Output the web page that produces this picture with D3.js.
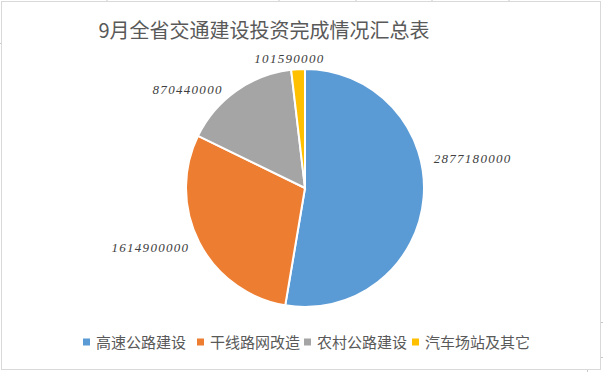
<!DOCTYPE html>
<html>
<head>
<meta charset="utf-8">
<script src="https://cdn.jsdelivr.net/npm/d3@7"></script>
<style>
	html, body { margin: 0; padding: 0; background: #fff; }
	.num { font-family: 'Liberation Serif', 'DejaVu Serif', serif; font-style: italic; font-size: 13px; fill: #404040; letter-spacing: 1.3px; }
	.cjk { font-family: 'Noto Sans CJK SC', sans-serif; fill: #595959; }
</style>
</head>
<body>
<div id="chart"></div>
<script>
const title = '9月全省交通建设投资完成情况汇总表'
const categories = ['高速公路建设', '干线路网改造', '农村公路建设', '汽车场站及其它']
const values = [2877180000, 1614900000, 870440000, 101590000]
const colors = ['#5b9bd5', '#ed7d31', '#a5a5a5', '#ffc000']

const W = 603
const H = 372
const cx = 305
const cy = 188
const radius = 119

const svg = d3.select('#chart')
	.append('svg')
	.attr('width', W)
	.attr('height', H)

// sheet grid stubs around the chart box
const stubs = [[107, 0, 107, 2], [279, 0, 279, 2], [356, 0, 356, 2], [432, 0, 432, 2], [509, 0, 509, 2],
	[0, 43.5, 1.5, 43.5], [601, 322.5, 603, 322.5], [601, 357.5, 603, 357.5], [587.5, 370, 587.5, 372]]
svg.selectAll('line.stub')
	.data(stubs)
	.enter()
	.append('line')
	.attr('x1', d => d[0]).attr('y1', d => d[1])
	.attr('x2', d => d[2]).attr('y2', d => d[3])
	.attr('stroke', '#c8c8c8')

svg.append('rect')
	.attr('x', 1.5)
	.attr('y', 1.5)
	.attr('width', 599)
	.attr('height', 368)
	.attr('fill', '#fff')
	.attr('stroke', '#d9d9d9')

svg.append('text')
	.attr('class', 'cjk')
	.attr('x', 264)
	.attr('y', 38)
	.attr('text-anchor', 'middle')
	.style('font-size', '20px')
	.text(title)

const data = categories.map((c, i) => ({ name: c, value: values[i], color: colors[i] }))

const pie = d3.pie()
	.value(d => d.value)
	.sort(null)

const arcs = pie(data)

const arc = d3.arc()
	.innerRadius(0)
	.outerRadius(radius)

const g = svg.append('g')
	.attr('transform', `translate(${cx},${cy})`)

g.selectAll('path')
	.data(arcs)
	.enter()
	.append('path')
	.attr('d', arc)
	.attr('fill', d => d.data.color)
	.attr('stroke', '#fff')
	.attr('stroke-width', 2)

// labels, outside end; biggest slice label sits higher (excel best fit)
const labelR = 130
g.selectAll('text')
	.data(arcs)
	.enter()
	.append('text')
	.attr('class', 'num')
	.each(function (d, i) {
		let a = (d.startAngle + d.endAngle) / 2
		let r = labelR
		if (i === 0) { a = a - 0.31; r = 132 }
		const x = r * Math.sin(a)
		const y = -r * Math.cos(a)
		const s = Math.sin(a)
		const anchor = s > 0.3 ? 'start' : (s < -0.3 ? 'end' : 'middle')
		d3.select(this)
			.attr('x', x)
			.attr('y', y + 4.5 + (i === 2 ? 7 : 0))
			.attr('dx', i === 2 ? -7 : (anchor === 'middle' ? -8 : 0))
			.attr('text-anchor', anchor)
	})
	.text(d => d.data.value)

// legend
const legend = svg.append('g')
const legendX = [83, 197, 304, 412]
const item = legend.selectAll('g')
	.data(data)
	.enter()
	.append('g')
	.attr('transform', (d, i) => `translate(${legendX[i]},342)`)

item.append('rect')
	.attr('x', 0)
	.attr('y', -3.5)
	.attr('width', 7)
	.attr('height', 7)
	.attr('fill', d => d.color)

item.append('text')
	.attr('class', 'cjk')
	.attr('x', 13)
	.attr('y', 5.5)
	.style('font-size', '15px')
	.text(d => d.name)
</script>
</body>
</html>
